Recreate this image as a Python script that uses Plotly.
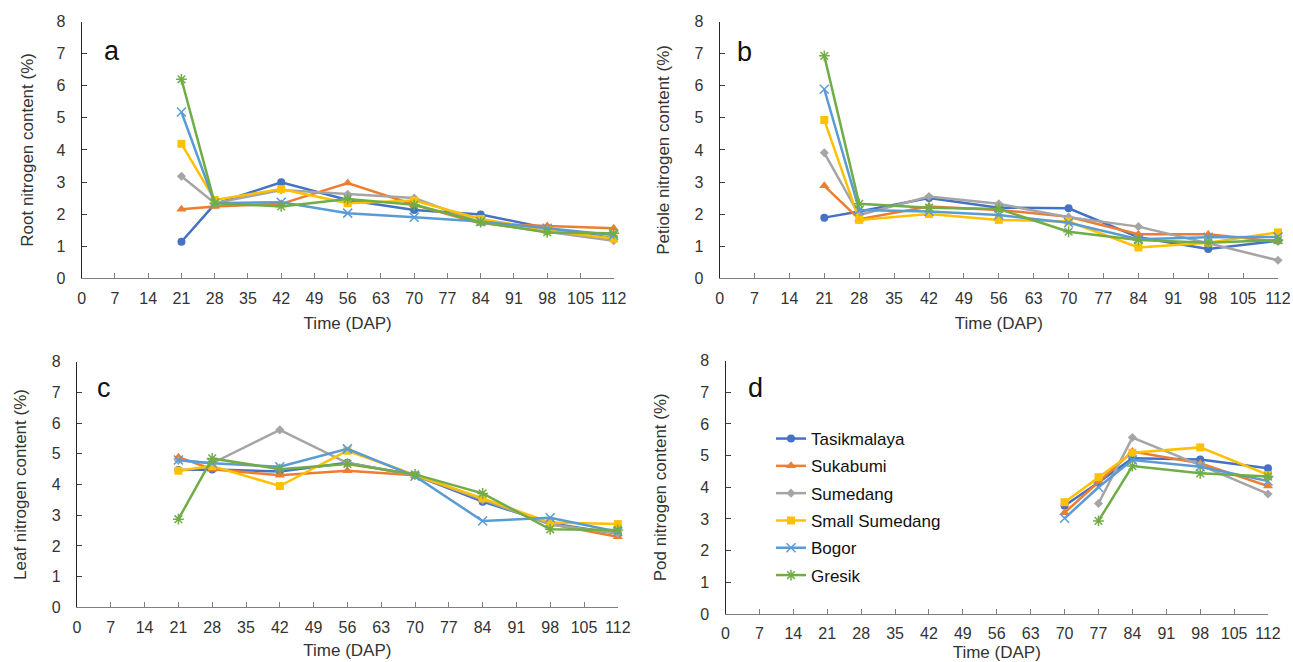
import plotly.graph_objects as go

W, H = 1293, 662

series = ["Tasikmalaya", "Sukabumi", "Sumedang", "Small Sumedang", "Bogor", "Gresik"]
colors = ["#4472C4", "#ED7D31", "#A5A5A5", "#FFC000", "#5B9BD5", "#70AD47"]
symbols = ["circle", "triangle-up", "diamond", "square", "x-thin-open", "asterisk-open"]
msizes = [8, 9, 7, 8, 9, 9]

x_abc = [21, 28, 42, 56, 70, 84, 98, 112]
x_d = [70, 77, 84, 98, 112]

root = {
    "Tasikmalaya":    [1.14, 2.31, 2.99, 2.44, 2.13, 1.99, 1.56, 1.25],
    "Sukabumi":       [2.15, 2.24, 2.32, 2.97, 2.29, 1.71, 1.63, 1.56],
    "Sumedang":       [3.18, 2.34, 2.75, 2.62, 2.50, 1.73, 1.45, 1.17],
    "Small Sumedang": [4.19, 2.44, 2.78, 2.34, 2.42, 1.85, 1.50, 1.24],
    "Bogor":          [5.18, 2.34, 2.37, 2.03, 1.90, 1.77, 1.56, 1.35],
    "Gresik":         [6.20, 2.34, 2.24, 2.47, 2.29, 1.75, 1.43, 1.40],
}
petiole = {
    "Tasikmalaya":    [1.89, 2.08, 2.50, 2.20, 2.18, 1.28, 0.91, 1.17],
    "Sukabumi":       [2.88, 1.84, 2.24, 2.13, 1.92, 1.37, 1.37, 1.14],
    "Sumedang":       [3.91, 1.97, 2.55, 2.32, 1.90, 1.61, 1.09, 0.56],
    "Small Sumedang": [4.93, 1.82, 2.00, 1.82, 1.77, 0.96, 1.11, 1.43],
    "Bogor":          [5.89, 2.13, 2.08, 1.97, 1.73, 1.22, 1.28, 1.29],
    "Gresik":         [6.93, 2.32, 2.20, 2.16, 1.45, 1.19, 1.11, 1.19],
}
leaf = {
    "Tasikmalaya":    [4.47, 4.49, 4.42, 4.71, 4.30, 3.44, 2.74, 2.40],
    "Sukabumi":       [4.89, 4.50, 4.30, 4.45, 4.30, 3.52, 2.71, 2.30],
    "Sumedang":       [4.78, 4.69, 5.78, 4.70, 4.31, 3.50, 2.70, 2.41],
    "Small Sumedang": [4.45, 4.60, 3.95, 5.10, 4.31, 3.55, 2.76, 2.71],
    "Bogor":          [4.80, 4.69, 4.58, 5.16, 4.27, 2.81, 2.92, 2.46],
    "Gresik":         [2.87, 4.85, 4.50, 4.67, 4.33, 3.71, 2.54, 2.52],
}
pod = {
    "Tasikmalaya":    [3.42, 4.15, 4.92, 4.88, 4.60],
    "Sukabumi":       [3.20, 4.18, 5.13, 4.76, 4.04],
    "Sumedang":       [None, 3.49, 5.57, 4.70, 3.79],
    "Small Sumedang": [3.53, 4.32, 5.09, 5.26, 4.39],
    "Bogor":          [3.02, 4.00, 4.86, 4.65, 4.20],
    "Gresik":         [None, 2.94, 4.67, 4.44, 4.34],
}

panels = [
    # (data, xvals, ytitle, letter, px_left, px_right, py_top, py_bottom, letter_pos, ytitle_standoff, xtitle_standoff)
    (root, x_abc, "Root nitrogen content (%)", "a", 81.7, 613.7, 21.5, 278.3, (112, 51), 18, 11),
    (petiole, x_abc, "Petiole nitrogen content (%)", "b", 719.6, 1278.0, 21.5, 278.3, (744, 52), 20, 11),
    (leaf, x_abc, "Leaf nitrogen content (%)", "c", 77.0, 617.8, 361.7, 607.3, (104, 388), 20, 9),
    (pod, x_d, "Pod nitrogen content (%)", "d", 725.5, 1268.0, 360.6, 614.0, (755, 388), 29, 10),
]

FONT = "Liberation Sans, Arial, sans-serif"
TXT = "#333333"

fig = go.Figure()
annotations = []
for i, (data, xv, ytitle, letter, pl, pr, pt, pb, lp, ysd, xsd) in enumerate(panels):
    n = "" if i == 0 else str(i + 1)
    xa, ya = "x" + n, "y" + n
    for k, s in enumerate(series):
        fig.add_trace(go.Scatter(
            x=xv, y=data[s], name=s, mode="lines+markers",
            xaxis=xa, yaxis=ya, showlegend=(i == 3), legendrank=k, legendgroup=s,
            line=dict(color=colors[k], width=2.5),
            marker=dict(symbol=symbols[k], size=msizes[k], color=colors[k],
                        line=dict(color=colors[k], width=1.5 if "open" in symbols[k] else 0)),
            cliponaxis=False, connectgaps=False,
        ))
    fig.layout["xaxis" + n] = dict(
        domain=[pl / W, pr / W], anchor=ya, range=[0, 112], tick0=0, dtick=7,
        automargin=False,
        ticks="inside", ticklen=5, tickcolor="#7f7f7f", showline=True, linecolor="#7f7f7f",
        linewidth=1.3, showgrid=False, zeroline=False, ticklabelstandoff=5,
        tickfont=dict(size=16, color=TXT, family=FONT),
        title=dict(text="Time (DAP)", font=dict(size=17, color=TXT, family=FONT), standoff=xsd),
    )
    fig.layout["yaxis" + n] = dict(
        domain=[1 - pb / H, 1 - pt / H], anchor=xa, range=[0, 8], dtick=1,
        automargin=False,
        ticks="inside", ticklen=5, tickcolor="#404040", showline=True, linecolor="#262626",
        linewidth=1.2, showgrid=False, zeroline=False, ticklabelstandoff=12,
        tickfont=dict(size=16, color=TXT, family=FONT),
        title=dict(text=ytitle, font=dict(size=17, color=TXT, family=FONT), standoff=ysd),
    )
    annotations.append(dict(text=letter, x=lp[0] / W, y=1 - lp[1] / H, xref="paper", yref="paper",
                            showarrow=False, xanchor="center", yanchor="middle",
                            font=dict(size=27, color="#111111", family=FONT)))

fig.update_layout(
    width=W, height=H, margin=dict(l=0, r=0, t=0, b=0, autoexpand=False),
    paper_bgcolor="white", plot_bgcolor="white",
    annotations=annotations,
    legend=dict(x=771 / W, y=1 - 421 / H, xanchor="left", yanchor="top",
                font=dict(size=17, color="#111111", family=FONT),
                bgcolor="rgba(0,0,0,0)", itemwidth=30, tracegroupgap=2.2),
    showlegend=True,
)

fig.write_html("out.html", config={"displayModeBar": False},
               post_script="document.body.style.margin='0';")
